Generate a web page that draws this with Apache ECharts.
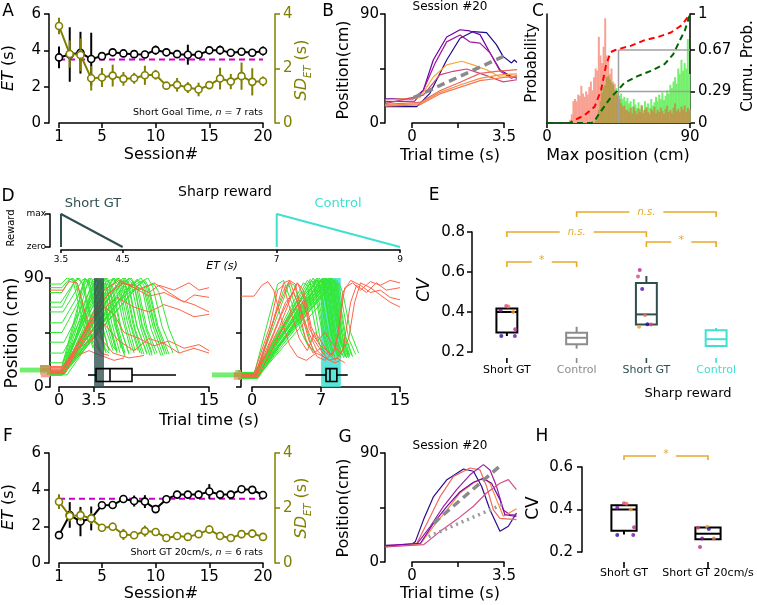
<!DOCTYPE html>
<html><head><meta charset="utf-8">
<script src="https://cdn.jsdelivr.net/npm/echarts@6/dist/echarts.min.js"></script>
<style>html,body{margin:0;padding:0;background:#fff}#c{width:757px;height:605px}</style>
</head><body><div id="c"></div><script>
// ---------------- DATA ----------------
const sessions = [1,2,3,4,5,6,7,8,9,10,11,12,13,14,15,16,17,18,19,20];
const etA = [3.61,3.77,3.87,3.52,3.68,3.89,3.83,3.79,3.77,4.01,3.89,3.79,3.76,3.76,4.00,4.01,3.87,3.92,3.87,3.96];
const etAErr = [0.6,1.5,1.15,1.45,0.2,0.12,0.2,0.2,0.2,0.25,0.2,0.2,0.55,0.2,0.12,0.25,0.2,0.15,0.12,0.25];
const sdA = [3.56,2.53,2.50,1.64,1.67,1.74,1.62,1.64,1.75,1.77,1.37,1.40,1.30,1.23,1.39,1.63,1.52,1.72,1.51,1.53];
const sdAErr = [0.3,0.5,0.6,0.45,0.35,0.4,0.25,0.2,0.35,0.18,0.1,0.25,0.2,0.25,0.12,0.4,0.28,0.5,0.5,0.18];
const etF = [1.52,2.62,2.26,2.43,3.15,3.16,3.49,3.38,3.35,2.94,3.48,3.73,3.73,3.73,3.90,3.73,3.73,4.02,3.99,3.71];
const etFErr = [0.2,0.7,0.8,0.65,0.2,0.2,0.2,0.3,0.35,0.2,0.2,0.15,0.15,0.2,0.4,0.15,0.15,0.15,0.15,0.15];
const sdF = [2.23,1.71,1.74,1.62,1.28,1.32,1.04,1.01,1.16,1.13,0.91,0.98,0.95,1.05,1.22,0.98,0.91,1.05,1.07,0.95];
const sdFErr = [0.27,0.2,0.2,0.2,0.1,0.15,0.2,0.1,0.2,0.1,0.1,0.1,0.1,0.1,0.15,0.1,0.1,0.15,0.15,0.1];
const goalET = 3.5;

// Panel B trajectories (time s, position cm)
const trajB = [
 [[-1.03,13.5],[0.18,13.5],[0.68,24.5],[1.32,52],[1.83,70],[2.33,75.5],[2.84,74.7],[3.22,64.5],[3.47,55],[3.79,49.6],[3.9,52],[4.0,50]],
 [[-1.03,20],[0.05,20],[0.43,27],[0.81,52],[1.32,71],[1.83,77],[2.2,76],[2.59,73],[2.97,58],[3.35,44],[3.73,39],[4.0,37]],
 [[-1.03,17.6],[0.1,18],[0.43,27],[0.87,49],[1.32,67],[1.83,72.7],[2.2,67],[2.59,66],[2.97,58],[3.35,43],[3.79,37],[4.0,39]],
 [[-1.03,19],[0.3,21],[0.81,38],[1.32,48],[1.89,51],[2.33,48],[2.84,44],[3.35,38],[4.0,38]],
 [[-1.03,16],[0.43,23],[1.06,39.7],[1.57,42.7],[2.08,44.6],[2.59,41],[3.1,37],[3.47,34],[4.0,35.7]],
 [[-1.03,15.4],[0.3,17],[1.06,26.6],[1.83,33.6],[2.59,41],[3.22,42.7],[4.0,44]],
 [[-1.03,14.5],[0.3,16],[1.06,25.3],[1.83,31.4],[2.59,36.9],[3.35,39.7],[4.0,40.5]],
 [[-1.03,14],[0.3,15],[1.06,24],[2.59,35],[4.0,39]]
];
const trajBColors = ['#1b0c8a','#6a00a8','#a01a9c','#fca636','#cc4778','#e66a5c','#f68f44','#f3785a'];
const goalLineB = [[0.06,21],[3.48,55]];

// Panel C histograms (1 cm bins from 0 to 89) and cumulative curves
const histCRed = [0,0,0,0,0,0,0,0,0,0,0,0,0,0,0.03,0.08,0.2,0.22,0.2,0.26,0.25,0.34,0.27,0.24,0.29,0.26,0.33,0.38,0.3,0.42,
 0.5,0.48,0.79,0.62,0.55,0.7,0.96,0.62,0.58,0.45,0.5,0.38,0.36,0.27,0.25,0.22,0.18,0.15,0.16,0.12,
 0.12,0.1,0.14,0.09,0.15,0.11,0.08,0.13,0.1,0.16,0.09,0.12,0.14,0.1,0.08,0.13,0.11,0.15,0.09,0.12,
 0.1,0.14,0.11,0.08,0.13,0.16,0.1,0.12,0.09,0.14,0.18,0.11,0.13,0.1,0.15,0.12,0.16,0.1,0.14,0.12];
const histCGreen = [0,0,0,0,0,0,0,0,0,0,0,0,0,0,0,0,0,0,0,0,0,0,0,0,0,0,0,0,0,0,
 0.02,0.05,0.12,0.2,0.28,0.33,0.35,0.42,0.43,0.4,0.37,0.35,0.3,0.32,0.28,0.25,0.27,0.22,0.24,0.2,
 0.23,0.18,0.2,0.15,0.22,0.17,0.14,0.19,0.13,0.16,0.12,0.2,0.15,0.18,0.14,0.22,0.16,0.19,0.24,0.2,
 0.26,0.22,0.28,0.21,0.25,0.3,0.27,0.35,0.32,0.38,0.42,0.36,0.5,0.45,0.58,0.48,0.55,0.5,0.77,0.45];
const cumCRed = [[0,0],[14,0],[17,0.025],[23.5,0.07],[30,0.15],[34,0.3],[37,0.52],[40,0.65],[43,0.67],[53,0.71],[61.5,0.76],[70,0.79],[78,0.83],[85,0.9],[90,1]];
const cumCGreen = [[0,0],[28,0],[30,0.02],[33,0.09],[36,0.15],[40.4,0.24],[44,0.29],[48.8,0.37],[57,0.43],[65.7,0.48],[74,0.54],[79.4,0.63],[83.7,0.76],[86.8,0.85],[90,1]];
const refX = 45, refLow = 0.29, refHigh = 0.67;

// Panel D reward schedules
const rewardShort = [[3.5,0],[3.5,1],[4.5,0]];
const rewardCtrl = [[7,0],[7,1],[9,0]];

// Panel D trajectories: left (Short GT) and right (Control)
const dLeftGreen = [
 [[-0.9,11],[0.1,11],[2.6,89],[3.0,88],[3.8,62],[4.6,32],[5.0,28]],
 [[-0.9,12],[0.3,12],[3.0,90],[3.4,86],[4.2,55],[5.0,30]],
 [[-0.9,10],[0.2,10],[3.4,89],[3.8,88],[4.6,58],[5.4,33],[5.8,30]],
 [[-0.9,13],[0.4,13],[3.8,90],[4.3,85],[5.0,55],[5.8,30]],
 [[-0.9,11],[0.3,11],[4.2,89],[4.6,88],[5.4,60],[6.2,32]],
 [[-0.9,12],[0.5,12],[4.6,90],[5.0,86],[5.8,52],[6.6,28]],
 [[-0.9,10],[0.2,10],[5.0,88],[5.5,89],[6.3,58],[7.2,30]],
 [[-0.9,12],[0.4,12],[5.4,90],[5.9,84],[6.7,50],[7.5,28]],
 [[-0.9,11],[0.3,11],[5.8,90],[6.2,86],[7.0,55],[7.9,30]],
 [[-0.9,13],[0.2,13],[6.2,89],[6.6,85],[7.4,52],[8.3,27]],
 [[-0.9,11],[0.5,11],[6.6,90],[7.0,84],[7.8,50],[8.8,27]],
 [[-0.9,12],[0.3,12],[7.0,88],[7.5,84],[8.3,50],[9.3,26]],
 [[-0.9,10],[0.4,10],[7.4,87],[7.9,82],[8.8,48],[9.8,28]],
 [[-0.9,12],[0.6,12],[8.0,85],[8.5,80],[9.4,50],[10.4,26]],
 [[-0.9,11],[0.3,11],[8.4,88],[8.9,82],[9.8,50],[10.8,27]],
 [[-0.9,13],[0.5,13],[4.0,70],[5.5,90],[6.0,86],[6.8,55],[7.6,30]],
 [[-0.9,12],[0.4,12],[3.2,75],[4.8,90],[5.4,82],[6.3,45],[7.0,28]],
 [[-0.9,11],[0.6,11],[5.0,75],[7.0,90],[7.5,86],[8.3,52],[9.3,28]],
 [[-0.9,12],[0.3,12],[2.8,60],[4.4,86],[5.0,84],[5.8,48],[6.6,25]],
 [[-0.9,10],[0.8,10],[6.0,72],[7.8,89],[8.5,84],[9.5,52],[10.5,30]],
 [[-0.9,12],[0.2,12],[6.5,80],[8.9,90],[9.4,82],[10.3,50],[11.4,28]],
 [[-0.9,11],[0.5,11],[7.5,80],[9.5,85],[10.0,78],[11.0,48],[12.0,28]],
 [[-0.9,12],[0.2,12],[1.8,60],[2.2,80],[2.6,90],[3.1,84],[3.9,52],[4.7,28]],
 [[-0.9,11],[0.4,11],[5.2,84],[6.0,90],[6.4,85],[7.2,52],[8.1,28]],
 [[-0.9,10],[0.3,10],[6.8,88],[7.2,90],[7.7,84],[8.6,50],[9.6,27]],
 [[-0.9,13],[0.6,13],[7.6,86],[8.2,90],[8.7,84],[9.6,50],[10.6,27]],
 [[-0.9,12],[0.4,12],[4.0,62],[6.2,88],[6.7,84],[7.6,48],[8.5,27]],
 [[-0.9,11],[0.2,11],[3.6,80],[4.0,89],[4.5,84],[5.3,52],[6.1,28]],
 [[-0.9,12],[0.5,12],[5.6,82],[6.4,90],[6.9,84],[7.8,50],[8.8,28]],
 [[-0.9,10],[0.3,10],[7.2,84],[7.8,88],[8.3,82],[9.2,48],[10.2,26]],
 [[-0.9,12],[0.4,12],[5.8,70],[8.6,88],[9.0,82],[9.9,50],[11.0,27]],
 [[-0.9,11],[0.5,11],[2.0,50],[3.6,88],[4.1,85],[4.9,54],[5.7,30]],
 [[-0.9,13],[0.3,13],[6.0,86],[6.8,88],[7.3,82],[8.2,48],[9.1,26]],
 [[-0.9,85],[0.2,85],[0.8,90],[1.4,88],[2.2,60],[3.0,35]],
 [[-0.9,82],[0.3,82],[0.9,88],[1.4,90],[1.9,84],[2.7,54],[3.6,30]],
 [[-0.9,78],[0.3,78],[1.1,89],[1.6,88],[2.5,58],[3.4,32]],
 [[-0.9,70],[0.2,70],[1.8,90],[2.3,86],[3.2,55],[4.0,30]],
 [[-0.9,66],[0.3,66],[1.5,86],[2.0,90],[2.5,84],[3.3,52],[4.2,28]],
 [[-0.9,62],[0.4,62],[2.4,89],[2.9,86],[3.8,55],[4.6,30]],
 [[-0.9,53],[0.3,53],[2.8,88],[3.3,86],[4.1,55],[5.0,30]],
 [[-0.9,45],[0.3,45],[3.2,90],[3.7,84],[4.5,52],[5.4,30]],
 [[-0.9,37],[0.5,37],[3.7,89],[4.1,86],[4.9,55],[5.8,28]],
 [[-0.9,28],[0.4,28],[4.2,88],[4.7,84],[5.6,50],[6.5,27]],
 [[-0.9,20],[0.3,20],[4.8,88],[5.2,85],[6.1,50],[7.0,27]]
];
const dLeftRed = [
 [[-0.9,80],[0.4,80],[1.0,87],[1.8,86],[2.6,62],[3.4,38],[4.2,28],[5.0,26]],
 [[-0.9,14],[0.3,14],[2.5,45],[4.5,72],[6.0,86],[7.5,84],[9.0,78],[10.0,84],[11.5,80],[13.0,86],[14.0,80],[15,82]],
 [[-0.9,15],[0.5,15],[3.0,52],[5.0,78],[6.5,86],[8.0,80],[9.5,86],[11.0,78],[12.5,70],[13.5,76],[15,74]],
 [[-0.9,13],[0.4,13],[2.6,45],[4.2,68],[5.5,60],[6.5,45],[8.0,40],[9.5,34],[11.0,38],[12.5,32],[14.0,35],[15,30]],
 [[-0.9,16],[0.3,16],[1.5,30],[3.5,40],[4.5,52],[6.0,38],[7.5,30],[9.0,40],[10.5,36],[12.0,28],[13.5,32],[15,28]],
 [[-0.9,12],[0.6,12],[3.8,60],[5.8,74],[7.5,66],[9.0,62],[10.5,68],[12.0,64],[13.5,58],[15,60]],
 [[-0.9,14],[0.4,14],[2.2,35],[3.4,48],[4.4,38],[5.4,28],[7.0,24],[8.5,26]],
 [[-0.9,17],[0.3,17],[1.8,26],[3.0,30],[4.2,26],[5.5,22],[6.5,24]],
 [[-0.9,11],[0.5,11],[4.5,80],[6.0,88],[7.5,82],[9.0,75],[10.5,78],[12.0,72],[13.5,68],[15,62]]
];
const dRightGreen = [
 [[-1.1,10],[0.2,10],[2.6,85],[3.2,88],[4.0,70],[5.0,45],[5.8,32]],
 [[-1.1,9],[0.3,9],[3.8,86],[4.3,84],[5.3,55],[6.2,30]],
 [[-1.1,8],[0.3,8],[5.6,88],[5.9,86],[6.9,40],[7.4,26]],
 [[-1.1,10],[0.2,10],[5.9,89],[6.2,86],[7.1,45],[7.7,27]],
 [[-1.1,7],[0.4,7],[6.2,90],[6.5,85],[7.4,42],[8.0,25]],
 [[-1.1,11],[0.1,11],[6.4,89],[6.7,86],[7.6,40],[8.2,26]],
 [[-1.1,9],[0.5,9],[6.6,90],[6.9,85],[7.8,42],[8.4,24]],
 [[-1.1,8],[0.3,8],[6.8,90],[7.1,86],[8.0,45],[8.6,26]],
 [[-1.1,12],[0.2,12],[7.0,89],[7.3,85],[8.1,42],[8.8,25]],
 [[-1.1,10],[0.4,10],[7.2,90],[7.5,86],[8.3,44],[9.0,24]],
 [[-1.1,7],[0.6,7],[7.4,90],[7.7,85],[8.5,40],[9.2,26]],
 [[-1.1,9],[0.3,9],[7.6,89],[7.9,86],[8.7,45],[9.4,25]],
 [[-1.1,11],[0.5,11],[7.8,90],[8.1,85],[8.9,42],[9.6,24]],
 [[-1.1,8],[0.4,8],[8.0,90],[8.3,84],[9.0,40],[9.7,25]],
 [[-1.1,10],[0.2,10],[8.2,88],[8.5,84],[9.2,45],[9.9,26]],
 [[-1.1,9],[0.6,9],[8.4,89],[8.7,82],[9.5,42],[10.2,25]],
 [[-1.1,12],[0.3,12],[8.6,88],[8.9,80],[9.8,40],[10.5,27]],
 [[-1.1,8],[0.5,8],[8.8,86],[9.2,78],[10.0,45],[10.8,28]],
 [[-1.1,10],[0.4,10],[4.5,70],[6.8,88],[7.2,84],[8.2,40],[8.8,26]],
 [[-1.1,11],[0.3,11],[4.0,60],[7.5,89],[7.9,84],[8.8,40],[9.5,25]],
 [[-1.1,9],[0.7,9],[6.0,75],[7.9,88],[8.3,80],[9.2,40],[9.9,25]],
 [[-1.1,9],[0.4,9],[6.5,88],[6.8,86],[7.7,42],[8.3,26]],
 [[-1.1,10],[0.3,10],[7.1,89],[7.4,85],[8.2,44],[8.9,25]],
 [[-1.1,8],[0.5,8],[7.3,88],[7.6,84],[8.4,42],[9.1,26]],
 [[-1.1,11],[0.2,11],[7.5,90],[7.8,86],[8.6,40],[9.3,24]],
 [[-1.1,7],[0.4,7],[7.7,89],[8.0,84],[8.8,44],[9.5,25]],
 [[-1.1,12],[0.6,12],[7.9,88],[8.2,83],[9.0,42],[9.8,26]],
 [[-1.1,9],[0.3,9],[8.1,90],[8.4,84],[9.1,44],[9.8,24]],
 [[-1.1,10],[0.4,10],[8.3,88],[8.6,82],[9.4,42],[10.1,26]],
 [[-1.1,8],[0.2,8],[6.9,88],[7.2,85],[8.0,42],[8.7,25]],
 [[-1.1,11],[0.5,11],[6.0,88],[6.3,86],[7.3,42],[7.9,26]],
 [[-1.1,9],[0.3,9],[3.2,80],[3.7,86],[4.6,60],[5.6,36],[6.4,28]],
 [[-1.1,10],[0.4,10],[5.2,86],[5.6,84],[6.6,42],[7.2,27]]
];
const dRightRed = [
 [[-1.1,75],[0.2,75],[1.0,84],[1.6,87],[2.2,80],[3.0,55],[3.8,35],[4.6,25],[5.5,22],[6.5,28],[7.5,24]],
 [[-1.1,8],[0.4,8],[2.0,50],[3.2,86],[3.8,88],[4.6,70],[5.4,40],[6.2,28],[7.0,32],[7.8,26],[8.4,30],[9.0,60],[9.4,82],[10.2,86],[11.0,80],[12.0,87],[13.0,84],[14.0,88],[15,86]],
 [[-1.1,10],[0.3,10],[2.5,62],[3.8,88],[4.4,85],[5.2,55],[5.8,38],[6.6,25],[7.4,22],[8.2,28],[8.8,45],[9.2,78],[10.0,88],[11.0,84],[12.0,78],[13.0,80],[14.0,74],[15,72]],
 [[-1.1,9],[0.5,9],[3.0,60],[4.6,86],[5.2,80],[6.0,50],[6.8,35],[7.6,30],[8.4,22],[9.2,30],[10.0,70],[10.6,84],[11.6,78],[12.6,86],[13.6,80],[15,82]],
 [[-1.1,11],[0.2,11],[1.8,50],[2.6,80],[3.2,84],[4.0,60],[4.8,40],[5.6,30],[6.4,45],[7.0,38],[7.6,30],[8.2,26]],
 [[-1.1,8],[0.6,8],[3.5,55],[5.0,72],[5.6,60],[6.2,40],[7.0,30],[7.8,22],[8.6,24],[9.4,20]],
 [[-1.1,10],[0.4,10],[2.8,50],[4.0,75],[4.6,86],[5.2,75],[5.8,48],[6.6,38],[7.4,45],[8.2,35],[9.0,28],[9.8,40],[10.4,70],[11.0,86],[12.0,82],[13.0,76],[14.0,70],[15,66]],
 [[-1.1,9],[0.3,9],[2.2,45],[3.4,70],[4.2,78],[5.0,62],[5.8,44],[6.6,30],[7.4,24],[8.4,20],[9.0,22]]
];
// start-position histograms: [binLow, binHigh, green fraction, red fraction]
const startHistL = [[8,10,0,0.3],[10,12,0.1,0.33],[12,14,1.0,0.33],[14,16,1.0,0.33],[16,18,0.33,0.33]];
const startHistR = [[6,8,0.1,0.25],[8,10,1.0,0.25],[10,12,1.0,0.25],[12,14,0.2,0.1]];
// ET box plots: [whiskerLow, q1, median, q3, whiskerHigh]
const etBoxL = [2.9,3.7,5.1,7.3,11.7];
const etBoxR = [5.4,7.5,7.9,8.6,9.7];
const etBoxY = 9.9, etBoxHalf = 5.3;
const rewardWindowL = [3.5,4.5];
const rewardWindowR = [7,9];

// Panel E / H CV box plots: [cat, lo, q1, med, q3, hi]
const catE = ['Short GT','Control','Short GT','Control'];
const catEColors = ['#000000','#8c8c8c','#2f4f4f','#40e0d0'];
const boxesE = [[0,0.28,0.298,0.40,0.418,0.418],[1,0.217,0.239,0.271,0.296,0.326],[2,0.337,0.337,0.388,0.545,0.58],[3,0.224,0.23,0.264,0.309,0.32]];
const P = {blue:'#1f10a0', purple:'#7010a8', magenta:'#b02a90', pink:'#d8487a', salmon:'#ee6a5a', orange:'#f89a30', indigo:'#4a10b0'};
// [cat, jitter, value, colour]
const ptsE = [[0,-0.08,0.28,P.blue],[0,0.115,0.28,P.purple],[0,0.12,0.314,P.magenta],[0,-0.01,0.43,P.pink],[0,0.02,0.427,P.salmon],[0,0.09,0.40,P.orange],[0,-0.09,0.408,P.purple],
 [2,-0.095,0.61,P.magenta],[2,-0.12,0.577,P.pink],[2,-0.06,0.515,P.indigo],[2,-0.02,0.385,P.salmon],[2,-0.105,0.326,P.orange],[2,0.015,0.339,P.blue],[2,0.067,0.338,P.pink]];
// [catFrom, catTo, y, tickEnd, label]
const bracketsE = [[0,1,0.65,0.625,'*'],[0,2,0.80,0.775,'n.s.'],[2,3,0.75,0.725,'*'],[1,3,0.90,0.875,'n.s.']];
const catH = ['Short GT','Short GT 20cm/s'];
const boxesH = [[0,0.282,0.30,0.40,0.42,0.42],[1,0.26,0.26,0.286,0.315,0.315]];
const ptsH = [[0,-0.08,0.408,P.purple],[0,0,0.43,P.pink],[0,0.03,0.427,P.salmon],[0,0.08,0.40,P.orange],[0,-0.08,0.28,P.blue],[0,0.11,0.28,P.purple],[0,0.12,0.316,P.magenta],
 [1,-0.12,0.314,P.pink],[1,-0.01,0.319,P.orange],[1,0.01,0.308,P.blue],[1,-0.07,0.263,P.purple],[1,0.07,0.263,P.salmon],[1,-0.095,0.224,P.magenta]];
const bracketsH = [[0,1,0.652,0.633,'*']];

// Panel G trajectories
const trajG = [
 [[-1.01,13.8],[-0.06,13.8],[0.13,17],[0.44,35],[0.82,54],[1.33,68],[1.96,76.8],[2.34,74.9],[2.65,62.5],[2.97,43.2],[3.35,25.3],[3.67,29.5],[3.98,40.5]],
 [[-1.01,12.9],[0.19,15.7],[0.57,32],[1.07,54],[1.58,70.7],[2.21,77.6],[2.59,76],[2.84,62.5],[3.1,43],[3.35,36],[3.98,35]],
 [[-1.01,12.9],[0.19,15],[0.7,29.5],[1.2,46],[1.7,59.7],[2.21,72],[2.72,80.4],[2.97,76],[3.22,62.5],[3.48,43],[3.73,39],[3.98,39]],
 [[-1.01,12.4],[0.32,15],[0.82,29.5],[1.33,43],[1.83,57],[2.34,65.2],[2.72,69.4],[2.97,65],[3.22,51.5],[3.48,37.7],[3.98,44]],
 [[-1.01,13.5],[0.32,15.5],[0.82,32],[1.33,46],[1.83,58],[2.34,65.8],[2.72,69],[3.03,65],[3.35,51.5],[3.54,39],[3.98,37.7]],
 [[-1.01,12.4],[0.44,14.3],[1.07,25.3],[1.7,35],[2.34,46],[2.84,57],[3.35,65],[3.67,68],[3.98,59.7]]
];
const trajGColors = ['#2c0a8e','#ec6b5e','#9a1fa0','#f68a44','#7b06a8','#d5508a'];
const goalLineG = [[0.82,32],[3.41,80.4]];
const slowLineG = [[0.63,21],[3.5,48]];

// ---------------- CHART ----------------
const FONT = 'DejaVu Sans';
const OLIVE = '#808000', MAG = '#cc00cc', SLATE = '#2f4f4f', TURQ = '#40e0d0', GOLD = '#e8a82a';
const GREEN = '#33e833', RED = '#ff6347';

const grids = [
 {left:59, top:14, width:204, height:109},   //0 A
 {left:385, top:14, width:132, height:109},  //1 B data
 {left:412, top:14, width:92, height:109},   //2 B axis
 {left:547, top:14, width:143, height:109},  //3 C
 {left:61, top:214, width:339, height:33},   //4 D reward
 {left:50, top:278, width:159, height:109},  //5 DL data
 {left:59, top:278, width:150, height:109},  //6 DL axis
 {left:20, top:278, width:30, height:109},   //7 DL hist
 {left:241, top:278, width:159, height:109}, //8 DR data
 {left:252, top:278, width:148, height:109}, //9 DR axis
 {left:212, top:278, width:29, height:109},  //10 DR hist
 {left:472, top:232, width:279, height:120}, //11 E
 {left:59, top:453, width:204, height:110},  //12 F
 {left:385, top:453, width:132, height:109}, //13 G data
 {left:412, top:453, width:92, height:109},  //14 G axis
 {left:582, top:467, width:168, height:85}   //15 H
].map(g => Object.assign({containLabel:false, outerBoundsMode:'none', show:false}, g));

function vis(gi, min, max, o) {
  o = o || {};
  const col = o.color || '#000';
  const a = {type:'value', gridIndex:gi, min:min, max:max, splitLine:{show:false},
    position:o.position, offset:o.offset || 0, inverse: !!o.inverse,
    axisLine:{show: o.line !== false, onZero:false, lineStyle:{color:col, width:1.5}},
    axisTick:{show: !!o.ticks, length:o.tickLen || 5, lineStyle:{color:col, width:1.5}},
    axisLabel:{show: !!o.labels, color:o.labelColor || col, fontFamily:FONT, fontSize:o.fs || 15, margin:o.margin || 6}};
  if (o.ticks) a.axisTick.customValues = o.ticks;
  if (o.labels) a.axisLabel.customValues = o.labels;
  if (o.formatter) a.axisLabel.formatter = o.formatter;
  return a;
}
function hid(gi, min, max, inv) { return {type:'value', gridIndex:gi, min:min, max:max, show:false, inverse: !!inv}; }

const catFmtE = v => catE[Math.round(Number(v))] || '';
const catFmtH = v => catH[Math.round(Number(v))] || '';

const xAxes = [
 vis(0, 1, 20, {ticks:[1,5,10,15,20], labels:[1,5,10,15,20], margin:7}),
 hid(1, -1.03, 4.0),
 vis(2, 0, 3.5, {ticks:[0,1.75,3.5], labels:[0,3.5], margin:7}),
 vis(3, 0, 90, {ticks:[0,90], labels:[0,90], margin:7}),
 vis(4, 3.5, 9, {ticks:[3.5,4.5,7,9], labels:[3.5,4.5,7,9], fs:9, tickLen:3, margin:5, offset:3}),
 hid(5, -0.9, 15),
 vis(6, 0, 15, {ticks:[0,3.5,15], labels:[0,3.5,15], fs:16, margin:6}),
 hid(7, 0, 1, true),
 hid(8, -1.115, 15),
 vis(9, 0, 15, {ticks:[0,7,15], labels:[0,7,15], fs:16, margin:6}),
 hid(10, 0, 1, true),
 vis(11, -0.5, 3.5, {line:false, labels:[0,1,2,3], fs:11, margin:13, formatter:catFmtE}),
 vis(12, 1, 20, {ticks:[1,5,10,15,20], labels:[1,5,10,15,20], margin:7}),
 hid(13, -1.03, 4.0),
 vis(14, 0, 3.5, {ticks:[0,1.75,3.5], labels:[0,3.5], margin:7}),
 vis(15, -0.5, 1.5, {line:false, labels:[0,1], fs:11, margin:16, formatter:catFmtH})
];
xAxes[11].axisLabel.color = v => catEColors[Math.round(Number(v))];

const yAxes = [
 vis(0, 0, 6, {ticks:[0,2,4,6], labels:[0,2,4,6], offset:10, margin:8}),
 vis(0, 0, 4, {position:'right', ticks:[0,2,4], labels:[0,2,4], offset:12, color:OLIVE, margin:8}),
 vis(1, 0, 90, {ticks:[0,45,90], labels:[0,90], margin:6}),
 hid(2, 0, 90),
 vis(3, 0, 1, {}),
 vis(3, 0, 1, {position:'right', ticks:[0,0.29,0.67,1], labels:[0,0.29,0.67,1], margin:8}),
 vis(4, 0, 1, {ticks:[0,1], labels:[0,1], fs:9, offset:11, margin:4, formatter: v => (Number(v) === 1 ? 'max' : 'zero')}),
 vis(5, 0, 90, {ticks:[0,45,90], labels:[0,90], fs:16, margin:6}),
 hid(6, 0, 90),
 hid(7, 0, 90),
 vis(8, 0, 90, {ticks:[0,45,90]}),
 hid(9, 0, 90),
 hid(10, 0, 90),
 vis(11, 0.2, 0.8, {ticks:[0.2,0.4,0.6,0.8], labels:[0.2,0.4,0.6,0.8], margin:7}),
 vis(12, 0, 6, {ticks:[0,2,4,6], labels:[0,2,4,6], offset:10, margin:8}),
 vis(12, 0, 4, {position:'right', ticks:[0,2,4], labels:[0,2,4], offset:12, color:OLIVE, margin:8}),
 vis(13, 0, 90, {ticks:[0,45,90], labels:[0,90], margin:6}),
 hid(14, 0, 90),
 vis(15, 0.2, 0.6, {ticks:[0.2,0.4,0.6], labels:[0.2,0.4,0.6], margin:9})
];

const series = [];
function add(s) { series.push(Object.assign({silent:true, animation:false}, s)); }

function errBars(xs, ys, es, color, xi, yi, z) {
  add({type:'custom', xAxisIndex:xi, yAxisIndex:yi, z:z, clip:false,
    data: xs.map((x,i) => [x, ys[i]-es[i], ys[i]+es[i]]),
    encode:{x:0, y:[1,2]},
    renderItem:(p, api) => {
      const a = api.coord([api.value(0), api.value(1)]), b = api.coord([api.value(0), api.value(2)]);
      return {type:'line', shape:{x1:a[0], y1:a[1], x2:b[0], y2:b[1]}, style:{stroke:color, lineWidth:2}};
    }});
}
function markerLine(xs, ys, color, xi, yi, z) {
  add({type:'line', xAxisIndex:xi, yAxisIndex:yi, z:z, data: xs.map((x,i) => [x, ys[i]]),
    symbol:'circle', symbolSize:7, showSymbol:true,
    lineStyle:{color:color, width:2}, itemStyle:{color:'#fff', borderColor:color, borderWidth:1.6}});
}
function plainLine(data, color, xi, yi, z, width, dash) {
  add({type:'line', xAxisIndex:xi, yAxisIndex:yi, z:z, data:data, symbol:'none',
    lineStyle:{color:color, width:width || 1, type: dash || 'solid'}});
}

// Panel A & F
function sessionPanel(xi, yl, yr, et, etErr, sd, sdErr) {
  plainLine([[sessions[0], goalET], [sessions[sessions.length-1], goalET]], MAG, xi, yl, 2, 2, [6,4]);
  errBars(sessions, et, etErr, '#000', xi, yl, 3);
  markerLine(sessions, et, '#000', xi, yl, 4);
  errBars(sessions, sd, sdErr, OLIVE, xi, yr, 5);
  markerLine(sessions, sd, OLIVE, xi, yr, 6);
}
sessionPanel(0, 0, 1, etA, etAErr, sdA, sdAErr);
sessionPanel(12, 14, 15, etF, etFErr, sdF, sdFErr);

// Panel B
trajB.forEach((d,i) => plainLine(d, trajBColors[i], 1, 2, 3, 1.2));
plainLine(goalLineB, '#8a8a8a', 1, 2, 4, 3.5, [8,5]);

// Panel G
trajG.forEach((d,i) => plainLine(d, trajGColors[i], 13, 16, 3, 1.2));
plainLine(goalLineG, '#8a8a8a', 13, 16, 4, 3.5, [8,5]);
plainLine(slowLineG, '#9a9a9a', 13, 16, 4, 3.5, [2,4]);

// Panel C histograms
function histBars(vals, color, z) {
  add({type:'custom', xAxisIndex:3, yAxisIndex:4, z:z, data: vals.map((v,i) => [i, v]), encode:{x:0, y:1},
    renderItem:(p, api) => {
      const a = api.coord([api.value(0), 0]), b = api.coord([api.value(0)+1, api.value(1)]);
      return {type:'rect', shape:{x:a[0], y:b[1], width:b[0]-a[0]+0.4, height:a[1]-b[1]}, style:{fill:color}};
    }});
}
histBars(histCRed, '#f8a192', 2);
histBars(histCGreen, '#74f06c', 3);
histBars(histCRed.map((v,i) => Math.min(v, histCGreen[i])), '#bb9a4e', 4);
plainLine([[refX,0],[refX,refHigh]], '#a0a0a0', 3, 5, 5, 1.5);
plainLine([[refX,refHigh],[90,refHigh]], '#a0a0a0', 3, 5, 5, 1.5);
plainLine([[refX,refLow],[90,refLow]], '#a0a0a0', 3, 5, 5, 1.5);
plainLine(cumCRed, '#ff0000', 3, 5, 6, 2, [6,4]);
plainLine(cumCGreen, '#006400', 3, 5, 6, 2, [6,4]);

// Panel D reward
plainLine(rewardShort, SLATE, 4, 6, 3, 2);
plainLine(rewardCtrl, TURQ, 4, 6, 3, 2);

// Panel D trajectories
function band(win, color, xi, yi, z) {
  add({type:'custom', xAxisIndex:xi, yAxisIndex:yi, z:z, data:[[win[0], win[1]]], encode:{x:[0,1]},
    renderItem:(p, api) => {
      const a = api.coord([api.value(0), 90]), b = api.coord([api.value(1), 0]);
      return {type:'rect', shape:{x:a[0], y:a[1], width:b[0]-a[0], height:b[1]-a[1]}, style:{fill:color}};
    }});
}
function hBox(box, xi, yi, z) {
  add({type:'custom', xAxisIndex:xi, yAxisIndex:yi, z:z, clip:false, data:[box.concat([etBoxY, etBoxHalf])],
    renderItem:(p, api) => {
      const v = i => api.value(i);
      const yc = v(5), h = v(6);
      const top = api.coord([v(1), yc+h]), bot = api.coord([v(3), yc-h]);
      const mT = api.coord([v(2), yc+h]), mB = api.coord([v(2), yc-h]);
      const wl = api.coord([v(0), yc]), wh = api.coord([v(4), yc]);
      const q1 = api.coord([v(1), yc]), q3 = api.coord([v(3), yc]);
      const st = {stroke:'#000', lineWidth:1.6, fill:null};
      return {type:'group', children:[
        {type:'rect', shape:{x:top[0], y:top[1], width:bot[0]-top[0], height:bot[1]-top[1]}, style:{stroke:'#000', lineWidth:1.6, fill:'rgba(0,0,0,0)'}},
        {type:'line', shape:{x1:mT[0], y1:mT[1], x2:mB[0], y2:mB[1]}, style:st},
        {type:'line', shape:{x1:wl[0], y1:wl[1], x2:q1[0], y2:q1[1]}, style:st},
        {type:'line', shape:{x1:q3[0], y1:q3[1], x2:wh[0], y2:wh[1]}, style:st}
      ]};
    }});
}
function startHist(rows, xi, yi) {
  const mk = (color, z, fn) => add({type:'custom', xAxisIndex:xi, yAxisIndex:yi, z:z, clip:false,
    data: rows.map(r => [r[0], r[1], fn(r)]),
    renderItem:(p, api) => {
      const a = api.coord([0, api.value(1)]), b = api.coord([api.value(2), api.value(0)]);
      return {type:'rect', shape:{x:Math.min(a[0],b[0]), y:a[1], width:Math.abs(b[0]-a[0]), height:b[1]-a[1]}, style:{fill:color}};
    }});
  mk('#f3a08e', 2, r => r[3]);
  mk('#6cf06a', 3, r => r[2]);
  mk('#bb9a4e', 4, r => Math.min(r[2], r[3]));
}
dLeftGreen.forEach(d => plainLine(d, GREEN, 5, 7, 2, 1));
dLeftRed.forEach(d => plainLine(d, RED, 5, 7, 3, 1));
band(rewardWindowL, 'rgba(47,79,79,0.78)', 5, 7, 5);
hBox(etBoxL, 5, 7, 6);
startHist(startHistL, 7, 9);

band(rewardWindowR, 'rgba(64,224,208,0.85)', 8, 10, 1);
dRightGreen.forEach(d => plainLine(d, GREEN, 8, 10, 2, 1));
dRightRed.forEach(d => plainLine(d, RED, 8, 10, 3, 1));
hBox(etBoxR, 8, 10, 6);
startHist(startHistR, 10, 12);

// Panels E & H
function cvBoxes(boxes, colors, xi, yi, frac) {
  add({type:'custom', xAxisIndex:xi, yAxisIndex:yi, z:3, clip:false, data:boxes, encode:{x:0, y:[1,2,3,4,5]},
    renderItem:(p, api) => {
      const c = colors[p.dataIndex];
      const x = api.value(0);
      const hw = api.size([1,0])[0] * frac / 2;
      const lo = api.coord([x, api.value(1)]), q1 = api.coord([x, api.value(2)]), md = api.coord([x, api.value(3)]);
      const q3 = api.coord([x, api.value(4)]), hi = api.coord([x, api.value(5)]);
      const st = {stroke:c, lineWidth:2, fill:null};
      return {type:'group', children:[
        {type:'line', shape:{x1:lo[0], y1:lo[1], x2:q1[0], y2:q1[1]}, style:st},
        {type:'line', shape:{x1:q3[0], y1:q3[1], x2:hi[0], y2:hi[1]}, style:st},
        {type:'rect', shape:{x:q3[0]-hw, y:q3[1], width:2*hw, height:q1[1]-q3[1]}, style:{stroke:c, lineWidth:2, fill:'rgba(0,0,0,0)'}},
        {type:'line', shape:{x1:md[0]-hw, y1:md[1], x2:md[0]+hw, y2:md[1]}, style:st}
      ]};
    }});
}
function cvPoints(pts, xi, yi) {
  add({type:'scatter', xAxisIndex:xi, yAxisIndex:yi, z:4, symbolSize:4, clip:false,
    data: pts.map(q => ({value:[q[0]+q[1], q[2]], itemStyle:{color:q[3]}}))});
}
function brackets(list, xi, yi) {
  add({type:'custom', xAxisIndex:xi, yAxisIndex:yi, z:5, clip:false, data: list.map(b => [b[0], b[1], b[2], b[3]]),
    renderItem:(p, api) => {
      const lab = list[p.dataIndex][4];
      const gap = lab === '*' ? 10 : 17;
      const a0 = api.coord([api.value(0), api.value(3)]), a1 = api.coord([api.value(0), api.value(2)]);
      const b1 = api.coord([api.value(1), api.value(2)]), b0 = api.coord([api.value(1), api.value(3)]);
      const mid = (a1[0] + b1[0]) / 2;
      const st = {stroke:GOLD, lineWidth:1.6, fill:null};
      return {type:'group', children:[
        {type:'polyline', shape:{points:[[a0[0],a0[1]],[a1[0],a1[1]],[mid-gap,a1[1]]]}, style:st},
        {type:'polyline', shape:{points:[[mid+gap,b1[1]],[b1[0],b1[1]],[b0[0],b0[1]]]}, style:st},
        {type:'text', x:mid, y:a1[1] - (lab === '*' ? 2 : 0), style:{text:lab, fill:GOLD, font:(lab === '*' ? 'normal 11px ' : 'italic 10px ') + FONT, align:'center', verticalAlign:'middle', textAlign:'center', textVerticalAlign:'middle'}}
      ]};
    }});
}
function catTicks(n, colors, xi, yi, yBase, d0, d1) {
  add({type:'custom', xAxisIndex:xi, yAxisIndex:yi, z:3, clip:false, data: Array.from({length:n}, (_, i) => [i, yBase]),
    renderItem:(p, api) => {
      const c = api.coord([api.value(0), api.value(1)]);
      return {type:'line', shape:{x1:c[0], y1:c[1]+d0, x2:c[0], y2:c[1]+d1}, style:{stroke:colors[p.dataIndex], lineWidth:1.6}};
    }});
}
cvBoxes(boxesE, catEColors, 11, 13, 0.3);
cvPoints(ptsE, 11, 13);
brackets(bracketsE, 11, 13);
catTicks(4, catEColors, 11, 13, 0.2, 6, 11);

cvBoxes(boxesH, ['#000','#000'], 15, 18, 0.3);
cvPoints(ptsH, 15, 18);
brackets(bracketsH, 15, 18);
catTicks(2, ['#000','#000'], 15, 18, 0.2, 10, 16);

// ---------------- TEXT ----------------
function T(text, x, y, o) {
  o = o || {};
  const size = o.size || 15;
  return {type:'text', x:x, y:y, rotation:o.rot ? Math.PI/2 : 0, z:100, silent:true,
    style:{text:text, x:0, y:0, fill:o.color || '#000',
      font:(o.italic ? 'italic ' : 'normal ') + size + 'px ' + FONT,
      align:o.align || 'center', verticalAlign:'middle', textAlign:o.align || 'center', textVerticalAlign:'middle',
      rich:o.rich}};
}
const it = s => ({i:{fontStyle:'italic', fontSize:s, fontFamily:FONT}});
const sdRich = {n:{fontStyle:'italic', fontSize:16, fontFamily:FONT, lineHeight:22, verticalAlign:'middle', color:OLIVE},
  s:{fontStyle:'italic', fontSize:10, fontFamily:FONT, lineHeight:22, verticalAlign:'bottom', color:OLIVE},
  r:{fontSize:16, fontFamily:FONT, lineHeight:22, verticalAlign:'middle', color:OLIVE}};
const texts = [
 T('A', 8, 12, {size:17}),
 T('{i|ET} (s)', 9, 68, {size:16, rot:true, rich:it(16)}),
 T('{n|SD}{s|ET}{r| (s)}', 302, 70, {size:16, rot:true, color:OLIVE, rich:sdRich}),
 T('Session#', 161, 155, {size:16}),
 T('Short Goal Time, {i|n} = 7 rats', 263, 113, {size:9.5, align:'right', rich:it(9.5)}),
 T('B', 328, 12, {size:17}),
 T('Session #20', 450, 7, {size:12}),
 T('Position(cm)', 344, 70, {size:16, rot:true}),
 T('Trial time (s)', 450, 156, {size:16}),
 T('C', 538, 12, {size:17}),
 T('Probability', 532, 63, {size:15, rot:true}),
 T('Cumu. Prob.', 748, 66, {size:15, rot:true}),
 T('Max position (cm)', 618, 156, {size:16}),
 T('D', 8, 197, {size:17}),
 T('Sharp reward', 225, 192, {size:14}),
 T('Short GT', 93, 204, {size:13, color:SLATE}),
 T('Control', 338, 204, {size:13, color:TURQ}),
 T('Reward', 11, 228, {size:10, rot:true}),
 T('ET (s)', 222, 266, {size:11, italic:true}),
 T('Position (cm)', 13, 333, {size:17, rot:true}),
 T('Trial time (s)', 209, 421, {size:16}),
 T('E', 434, 196, {size:17}),
 T('CV', 425, 290, {size:17, rot:true, italic:true}),
 T('Sharp reward', 688, 394, {size:13}),
 T('F', 8, 437, {size:17}),
 T('{i|ET} (s)', 9, 507, {size:16, rot:true, rich:it(16)}),
 T('{n|SD}{s|ET}{r| (s)}', 302, 508, {size:16, rot:true, color:OLIVE, rich:sdRich}),
 T('Session#', 161, 594, {size:16}),
 T('Short GT 20cm/s, {i|n} = 6 rats', 263, 553, {size:9.5, align:'right', rich:it(9.5)}),
 T('G', 345, 438, {size:17}),
 T('Session #20', 450, 446, {size:12}),
 T('Position(cm)', 344, 508, {size:16, rot:true}),
 T('Trial time (s)', 450, 594, {size:16}),
 T('H', 542, 437, {size:17}),
 T('CV', 534, 508, {size:17, rot:true})
];

const chart = echarts.init(document.getElementById('c'), null, {renderer:'canvas'});
chart.setOption({
  backgroundColor:'#fff', animation:false,
  textStyle:{fontFamily:FONT},
  grid:grids, xAxis:xAxes, yAxis:yAxes, series:series, graphic:texts
});
</script></body></html>
